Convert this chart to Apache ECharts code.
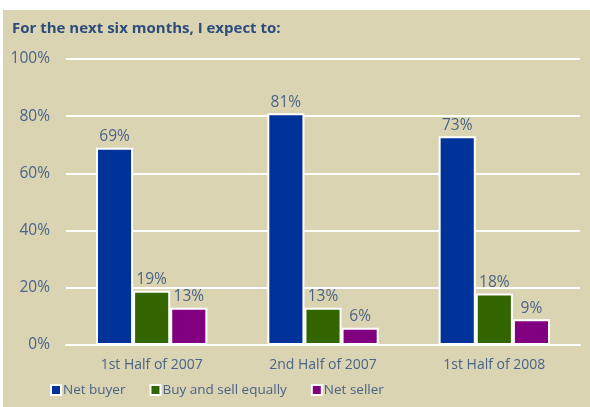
<!DOCTYPE html>
<html>
<head>
<meta charset="utf-8">
<script src="https://cdn.jsdelivr.net/npm/echarts@6/dist/echarts.min.js"></script>
<style>
  html, body { margin: 0; padding: 0; background: #fff; }
  #chart { width: 590px; height: 407px; }
</style>
</head>
<body>
<div id="chart"></div>
<script>
const periods = ["1st Half of 2007", "2nd Half of 2007", "1st Half of 2008"];
const netBuyer = [69, 81, 73];
const buySellEqually = [19, 13, 18];
const netSeller = [13, 6, 9];
const yTicks = [0, 20, 40, 60, 80, 100];

const textColor = "#4a6386";
const font = "'Open Sans', 'Noto Sans', sans-serif";

function barSeries(name, data, color) {
  return {
    name: name,
    type: "bar",
    data: data,
    barGap: "0%",
    barCategoryGap: "35%",
    itemStyle: { color: color, borderColor: "#fff", borderWidth: 2 },
    label: {
      show: true,
      position: "top",
      distance: 3,
      formatter: "{c}%",
      color: textColor,
      fontFamily: font,
      fontSize: 15.5
    }
  };
}

const chart = echarts.init(document.getElementById("chart"));
chart.setOption({
  backgroundColor: "#fff",
  animation: false,
  graphic: [
    {
      type: "rect",
      z: -10,
      shape: { x: 3, y: 10, width: 587, height: 397 },
      style: { fill: "#dbd4b3" }
    },
    {
      type: "text",
      left: 12,
      top: 21,
      style: {
        text: "For the next six months, I expect to:",
        fill: "#2c4d7c",
        font: "bold 15px " + font
      }
    }
  ],
  legend: {
    left: 45,
    bottom: 5,
    itemWidth: 10,
    itemHeight: 10,
    itemGap: 24,
    icon: "rect",
    textStyle: { color: textColor, fontFamily: font, fontSize: 13.5, padding: [0, 0, 0, -3] },
    itemStyle: { borderColor: "#fff", borderWidth: 2 },
    data: ["Net buyer", "Buy and sell equally", "Net seller"]
  },
  grid: { left: 66, right: 10, top: 59, bottom: 62 },
  xAxis: {
    type: "category",
    data: periods,
    axisLine: { show: true, lineStyle: { color: "#fff", width: 2 } },
    axisTick: { show: false },
    axisLabel: { color: textColor, fontFamily: font, fontSize: 14, margin: 13 }
  },
  yAxis: {
    type: "value",
    min: yTicks[0],
    max: yTicks[yTicks.length - 1],
    interval: 20,
    axisLine: { show: false },
    axisTick: { show: false },
    splitLine: { lineStyle: { color: "#fff", width: 2 } },
    axisLabel: { color: textColor, fontFamily: font, fontSize: 15.5, margin: 16, formatter: "{value}%" }
  },
  series: [
    barSeries("Net buyer", netBuyer, "#003399"),
    barSeries("Buy and sell equally", buySellEqually, "#336600"),
    barSeries("Net seller", netSeller, "#800080")
  ]
});
</script>
</body>
</html>
